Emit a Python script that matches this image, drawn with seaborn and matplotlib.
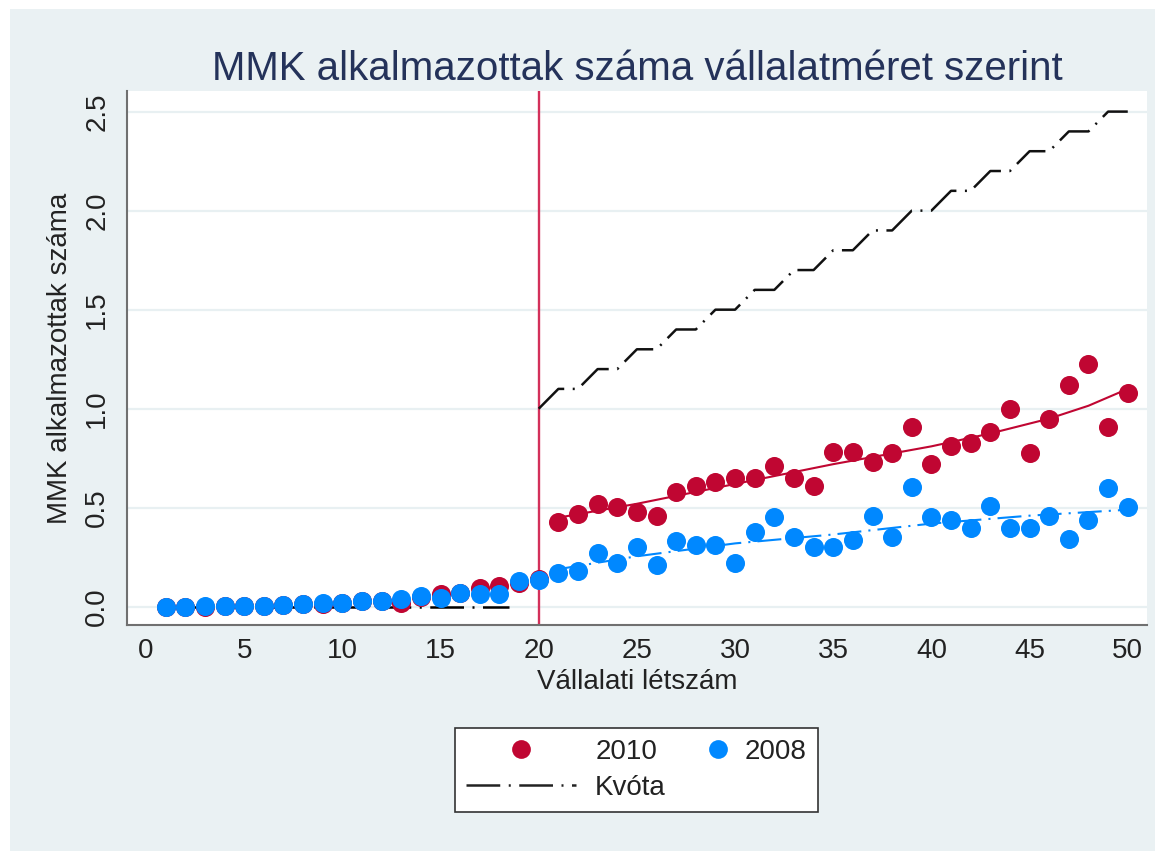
"""
MMK alkalmazottak száma vállalatméret szerint (2008 vs 2010, kvóta).
"""

import matplotlib

matplotlib.use("Agg")

import matplotlib.pyplot as plt
import pandas as pd
import seaborn as sns
from matplotlib.legend_handler import HandlerBase
from matplotlib.lines import Line2D
from matplotlib.patches import Rectangle


# --- Daten -------------------------------------------------------------------
LETSZAM = list(range(1, 51))

MMK_2010 = [
    0.0, 0.0, 0.001, 0.002, 0.003, 0.005, 0.009, 0.012, 0.015, 0.02,
    0.027, 0.03, 0.02, 0.05, 0.064, 0.07, 0.095, 0.105, 0.12, 0.14,
    0.43, 0.47, 0.52, 0.505, 0.48, 0.46, 0.58, 0.61, 0.63, 0.65,
    0.65, 0.71, 0.65, 0.61, 0.78, 0.78, 0.73, 0.775, 0.91, 0.72,
    0.81, 0.825, 0.88, 1.00, 0.775, 0.95, 1.12, 1.225, 0.91, 1.08,
]

MMK_2008 = [
    0.0, 0.0, 0.002, 0.002, 0.003, 0.005, 0.01, 0.013, 0.017, 0.02,
    0.027, 0.027, 0.039, 0.055, 0.044, 0.072, 0.064, 0.064, 0.13, 0.135,
    0.17, 0.18, 0.27, 0.22, 0.30, 0.21, 0.33, 0.31, 0.31, 0.22,
    0.38, 0.455, 0.35, 0.30, 0.30, 0.335, 0.458, 0.35, 0.606, 0.455,
    0.44, 0.40, 0.51, 0.40, 0.40, 0.46, 0.34, 0.44, 0.60, 0.505,
]

# illesztett görbék
FIT_X_2010 = [21, 25, 30, 35, 40, 43, 46, 48, 50]
FIT_Y_2010 = [0.45, 0.52, 0.62, 0.72, 0.81, 0.875, 0.95, 1.015, 1.10]
FIT_X_2008 = [21, 25, 30, 35, 40, 45, 50]
FIT_Y_2008 = [0.19, 0.255, 0.32, 0.365, 0.42, 0.46, 0.49]

# kvóta: 20 fő alatt nincs, felette 5%
KVOTA_X_ALATT = [1, 18.5]
KVOTA_Y_ALATT = [0.0, 0.0]
KVOTA_X = [20, 21, 22, 23, 24, 25, 26, 27, 28, 29, 30, 31, 32, 33, 34, 35,
           36, 37, 38, 39, 40, 41, 42, 43, 44, 45, 46, 47, 48, 49, 50]
KVOTA_Y = [1.0, 1.1, 1.1, 1.2, 1.2, 1.3, 1.3, 1.4, 1.4, 1.5, 1.5, 1.6, 1.6,
           1.7, 1.7, 1.8, 1.8, 1.9, 1.9, 2.0, 2.0, 2.1, 2.1, 2.2, 2.2, 2.3,
           2.3, 2.4, 2.4, 2.5, 2.5]

KUSZOB = 20

X_TICKS = [0, 5, 10, 15, 20, 25, 30, 35, 40, 45, 50]
Y_TICKS = [0.0, 0.5, 1.0, 1.5, 2.0, 2.5]

TITLE = "MMK alkalmazottak száma vállalatméret szerint"
X_LABEL = "Vállalati létszám"
Y_LABEL = "MMK alkalmazottak száma"

# --- Stil --------------------------------------------------------------------
RED = "#C00632"
BLUE = "#0088FF"
VLINE_COLOR = "#D3305A"
TITLE_COLOR = "#24325A"
PANEL_COLOR = "#EAF1F3"
GRID_COLOR = "#E8F0F2"
AXIS_COLOR = "#707070"

KVOTA_STYLE = (0, (13.5, 3.4, 0.8, 3.4))
FIT_2008_STYLE = (0, (11.5, 3.4, 1.0, 3.4))


class MarkerRightHandler(HandlerBase):
    """Legend-Marker an das rechte Ende der Handle-Box setzen."""

    def create_artists(self, legend, orig_handle, xdescent, ydescent,
                       width, height, fontsize, trans):
        x = -xdescent + width - 0.3 * fontsize
        y = (height - ydescent) / 2
        marker = Line2D([x], [y])
        marker.update_from(orig_handle)
        marker.set_transform(trans)
        return [marker]


def main():
    sns.set_style("white")
    plt.rcParams["font.family"] = ["Liberation Sans", "DejaVu Sans"]

    fig = plt.figure(figsize=(11.63, 8.51), dpi=100, facecolor="white")
    fig.patches.append(
        Rectangle((10 / 1163, 0), 1145 / 1163, 842 / 851,
                  transform=fig.transFigure, facecolor=PANEL_COLOR,
                  edgecolor="none", zorder=-10)
    )

    ax = fig.add_axes([127 / 1163, 226 / 851, 1020 / 1163, 534 / 851])
    ax.set_facecolor("white")

    df = pd.DataFrame({"letszam": LETSZAM, "y2010": MMK_2010, "y2008": MMK_2008})

    for y in Y_TICKS:
        ax.axhline(y, color=GRID_COLOR, lw=1.6, zorder=0)

    ax.axvline(KUSZOB, color=VLINE_COLOR, lw=1.7, zorder=1)

    sns.lineplot(x=KVOTA_X_ALATT, y=KVOTA_Y_ALATT, ax=ax, color="black",
                 lw=1.8, linestyle=KVOTA_STYLE, zorder=2)
    sns.lineplot(x=KVOTA_X, y=KVOTA_Y, ax=ax, color="#111111",
                 lw=1.8, linestyle=KVOTA_STYLE, zorder=2)

    sns.scatterplot(data=df, x="letszam", y="y2010", ax=ax, color=RED,
                    s=188, linewidth=0, legend=False, zorder=3)
    sns.scatterplot(data=df, x="letszam", y="y2008", ax=ax, color=BLUE,
                    s=188, linewidth=0, legend=False, zorder=3)

    sns.lineplot(x=FIT_X_2010, y=FIT_Y_2010, ax=ax, color=RED, lw=1.5,
                 zorder=4)
    sns.lineplot(x=FIT_X_2008, y=FIT_Y_2008, ax=ax, color=BLUE, lw=1.5,
                 linestyle=FIT_2008_STYLE, zorder=4)

    ax.set_xlim(-0.97, 50.98)
    ax.set_ylim(-0.092, 2.604)
    ax.set_xticks(X_TICKS)
    ax.set_yticks(Y_TICKS)
    ax.set_yticklabels([f"{v:.1f}" for v in Y_TICKS], rotation=90, va="center")

    for side in ["top", "right"]:
        ax.spines[side].set_visible(False)
    for side in ["left", "bottom"]:
        ax.spines[side].set_color(AXIS_COLOR)
        ax.spines[side].set_linewidth(1.5)

    ax.tick_params(axis="both", which="major", direction="out", length=6,
                   width=1.5, color=AXIS_COLOR, labelsize=20, labelcolor="#222222")
    ax.tick_params(axis="x", pad=3)
    ax.tick_params(axis="y", pad=6)

    ax.set_xlabel(X_LABEL, fontsize=20, color="#222222", labelpad=4)
    ax.set_ylabel(Y_LABEL, fontsize=20, color="#222222", labelpad=8)
    ax.set_title(TITLE, fontsize=29, color=TITLE_COLOR, pad=8)

    h2010 = Line2D([], [], marker="o", ls="none", color=RED, markersize=13.5,
                   markeredgewidth=0)
    h2008 = Line2D([], [], marker="o", ls="none", color=BLUE, markersize=13.5,
                   markeredgewidth=0)
    hkvota = Line2D([], [], color="#222222", lw=1.8, linestyle=KVOTA_STYLE)

    leg = fig.legend(
        handles=[h2010, hkvota, h2008],
        labels=["2010", "Kvóta", "2008"],
        handler_map={h2008: MarkerRightHandler()},
        loc="center",
        bbox_to_anchor=(636.5 / 1163, 1 - 770 / 851),
        ncol=2,
        fontsize=20,
        frameon=True,
        fancybox=False,
        framealpha=1.0,
        handlelength=3.96,
        handletextpad=0.68,
        columnspacing=-1.8,
        labelspacing=0.35,
        borderpad=0.4,
    )
    leg.get_frame().set_edgecolor("#333333")
    leg.get_frame().set_linewidth(1.2)
    leg.get_frame().set_facecolor("white")
    for text in leg.get_texts():
        text.set_color("#222222")

    fig.savefig("out.png", dpi=100, facecolor="white")
    plt.close(fig)


if __name__ == "__main__":
    main()
